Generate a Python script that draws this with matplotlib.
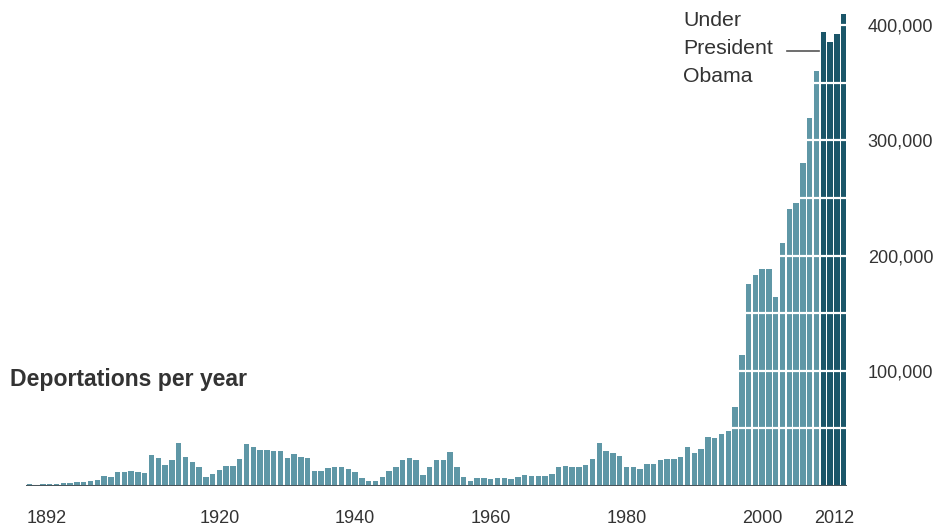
import matplotlib.pyplot as plt
from matplotlib.transforms import ScaledTranslation

plt.rcParams['font.family'] = ['Liberation Sans', 'DejaVu Sans']

# Deportations per fiscal year, 1892-2012
years = list(range(1892, 2013))
deportations = [
    1400, 1200, 1700, 2000, 1400, 2300, 2900, 3500,                      # 1892-1899
    3200, 4000, 4900, 8400, 8100, 11800, 12100, 12700, 11800, 11600,     # 1900s
    26600, 24000, 17900, 22200, 37000, 25400, 21100, 16800, 7500, 10400,  # 1910s
    13900, 17600, 17600, 23100, 36100, 34100, 31200, 30900, 30600, 30300,  # 1920s
    24000, 27500, 25400, 24600, 13000, 13000, 15300, 16200, 16200, 14500,  # 1930s
    11800, 6600, 4600, 4600, 7500, 12700, 16200, 22200, 24000, 22500,    # 1940s
    9500, 16200, 22200, 22200, 29500, 16500, 7500, 4600, 6900, 7200,     # 1950s
    5800, 7200, 7200, 6400, 8100, 9500, 8700, 8700, 8700, 10100,         # 1960s
    16500, 17600, 16200, 16500, 18200, 23100, 37000, 30300, 28900, 26000,  # 1970s
    16800, 16200, 14500, 18800, 18800, 22200, 23400, 23400, 24900, 33800,  # 1980s
    28900, 32100, 42800, 41900, 44800, 47700, 68700, 113600, 175000, 183000,  # 1990s
    188000, 188000, 164000, 211000, 240000, 245600, 280000, 319700, 359800,   # 2000-2008
    393900, 385000, 392500, 409800,                                          # 2009-2012
]
obama_start = 2009

tick_years = [1892, 1920, 1940, 1960, 1980, 2000, 2012]
y_ticks = [100000, 200000, 300000, 400000]
grid_lines = list(range(50000, 400001, 50000))

light = '#5f97a6'
dark = '#1b5669'
text_col = '#333333'

W, H = 935, 529
fig = plt.figure(figsize=(W / 100, H / 100), dpi=100)
ax = fig.add_axes([26 / W, 43 / H, (847 - 26) / W, 484 / H])

colors = [dark if y >= obama_start else light for y in years]
ax.bar(years, deportations, width=0.8, color=colors, zorder=2)

# white guide lines cut through the bars
for g in grid_lines:
    ax.axhline(g, color='white', lw=1.6, zorder=3)
ax.axhline(0, color='#4a555b', lw=2.2, zorder=4)

ax.set_xlim(1891.5, 2012.5)
ax.set_ylim(0, 420000)

for s in ax.spines.values():
    s.set_visible(False)

ax.yaxis.tick_right()
ax.set_yticks(y_ticks)
ax.set_yticklabels([f'{v:,}' for v in y_ticks])
ax.tick_params(axis='y', length=0, pad=15, labelsize=13, labelcolor=text_col)

ax.set_xticks(tick_years)
ax.set_xticklabels([str(y) for y in tick_years])
ax.tick_params(axis='x', length=0, pad=17, labelsize=13, labelcolor=text_col)
xlabels = ax.get_xticklabels()
xlabels[0].set_ha('left')
xlabels[0].set_transform(xlabels[0].get_transform() + ScaledTranslation(-3 / 100, 0, fig.dpi_scale_trans))
xlabels[-1].set_transform(xlabels[-1].get_transform() + ScaledTranslation(-9 / 100, 0, fig.dpi_scale_trans))

fig.text(10 / W, 1 - 386 / H, 'Deportations per year', fontsize=16.6, fontweight='bold',
         color=text_col, va='baseline', ha='left')

for label, ypx in [('Under', 21), ('President', 48.5), ('Obama', 76)]:
    fig.text(683 / W, 1 - ypx / H, label, fontsize=15.3, color=text_col, va='center', ha='left')

# leader line from the note to the first Obama-era bar
fig.add_artist(plt.Line2D([787 / W, 819 / W], [1 - 51 / H, 1 - 51 / H],
                          color='#555555', lw=1.2))

fig.savefig('out.png', dpi=100, facecolor='white')
